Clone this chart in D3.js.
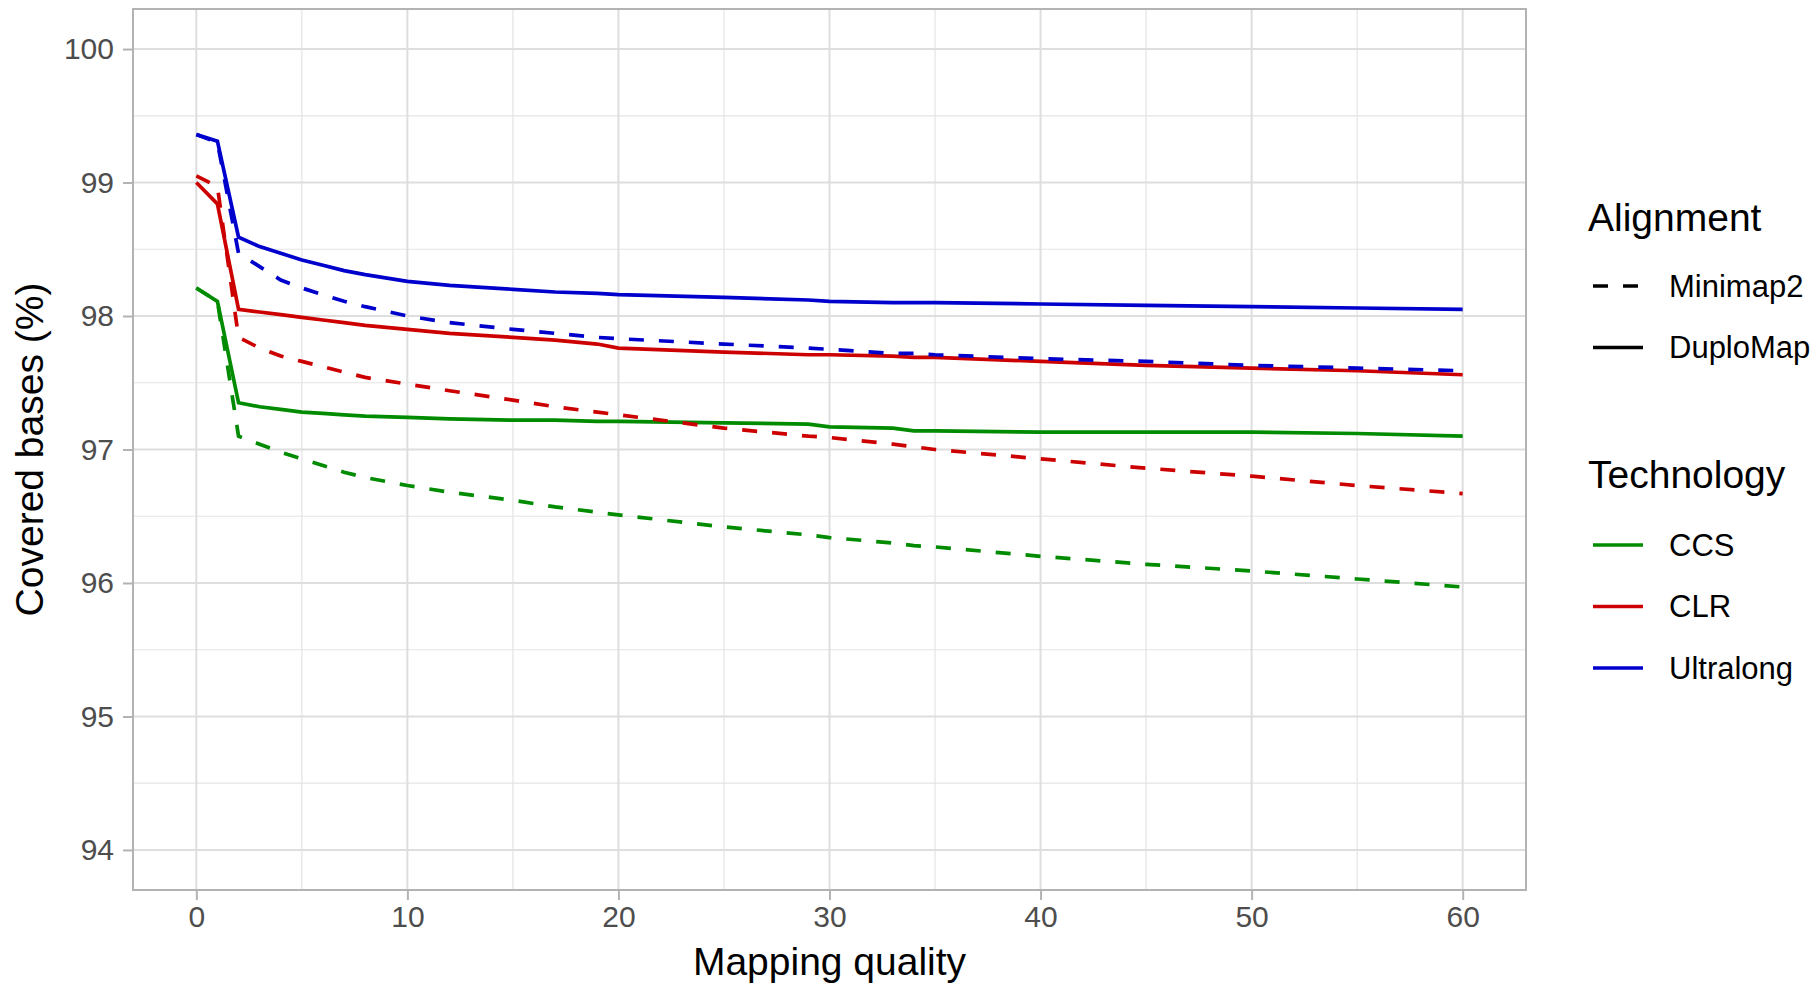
<!DOCTYPE html>
<meta charset="utf-8">
<script src="https://cdn.jsdelivr.net/npm/d3@7"></script>
<style>
  body { margin: 0; background: #fff; }
  svg { display: block; font-family: "Liberation Sans", Arial, sans-serif; }
</style>
<body>
<script>

var mapq = [0, 1, 2, 3, 4, 5, 6, 7, 8, 10, 12, 15, 17, 19, 20, 25, 29, 30, 33, 34, 35, 40, 45, 50, 55, 60]

var ccsMinimap2 = [98.21, 98.11, 97.10, 97.04, 96.98, 96.93, 96.88, 96.83, 96.79, 96.73, 96.68, 96.62, 96.57, 96.53, 96.51, 96.42, 96.36, 96.34, 96.30, 96.28, 96.27, 96.20, 96.14, 96.09, 96.03, 95.97]
var ccsDuploMap = [98.21, 98.11, 97.35, 97.32, 97.30, 97.28, 97.27, 97.26, 97.25, 97.24, 97.23, 97.22, 97.22, 97.21, 97.21, 97.20, 97.19, 97.17, 97.16, 97.14, 97.14, 97.13, 97.13, 97.13, 97.12, 97.10]
var clrMinimap2 = [99.05, 98.97, 97.84, 97.76, 97.70, 97.66, 97.62, 97.58, 97.54, 97.49, 97.44, 97.37, 97.32, 97.28, 97.26, 97.16, 97.10, 97.09, 97.04, 97.02, 97.00, 96.93, 96.86, 96.80, 96.73, 96.67]
var clrDuploMap = [99.00, 98.84, 98.05, 98.03, 98.01, 97.99, 97.97, 97.95, 97.93, 97.90, 97.87, 97.84, 97.82, 97.79, 97.76, 97.73, 97.71, 97.71, 97.70, 97.69, 97.69, 97.66, 97.63, 97.61, 97.59, 97.56]
var ulMinimap2 = [99.36, 99.30, 98.47, 98.37, 98.27, 98.21, 98.16, 98.11, 98.07, 98.00, 97.95, 97.90, 97.87, 97.84, 97.83, 97.79, 97.76, 97.75, 97.72, 97.72, 97.71, 97.68, 97.66, 97.63, 97.61, 97.59]
var ulDuploMap = [99.36, 99.31, 98.59, 98.52, 98.47, 98.42, 98.38, 98.34, 98.31, 98.26, 98.23, 98.20, 98.18, 98.17, 98.16, 98.14, 98.12, 98.11, 98.10, 98.10, 98.10, 98.09, 98.08, 98.07, 98.06, 98.05]

var technologies = ["CCS", "CLR", "Ultralong"]
var alignments = ["Minimap2", "DuploMap"]
var xTicks = [0, 10, 20, 30, 40, 50, 60]
var yTicks = [94, 95, 96, 97, 98, 99, 100]

var series = [
  { tech: "CCS", align: "Minimap2", values: ccsMinimap2 },
  { tech: "CCS", align: "DuploMap", values: ccsDuploMap },
  { tech: "CLR", align: "Minimap2", values: clrMinimap2 },
  { tech: "CLR", align: "DuploMap", values: clrDuploMap },
  { tech: "Ultralong", align: "Minimap2", values: ulMinimap2 },
  { tech: "Ultralong", align: "DuploMap", values: ulDuploMap },
]

var width = 1816
var height = 988
var panel = { left: 133, right: 1526, top: 9, bottom: 890 }

var x = d3.scaleLinear().domain([-3, 63]).range([panel.left, panel.right])
var y = d3.scaleLinear().domain([93.7, 100.3]).range([panel.bottom, panel.top])

var colour = d3.scaleOrdinal().domain(technologies).range(["#008b00", "#cd0000", "#0000cd"])
var dash = d3.scaleOrdinal().domain(alignments).range(["15,15", null])

var svg = d3.select("body").append("svg")
  .attr("width", width)
  .attr("height", height)

// grid
var grid = svg.append("g")
var minorX = d3.range(-5, 66, 10).filter(d => d > -3 && d < 63)
var minorY = d3.range(93.5, 100.6, 1).filter(d => d > 93.7 && d < 100.3)

grid.selectAll(".minx").data(minorX).enter().append("line")
  .attr("x1", d => x(d)).attr("x2", d => x(d))
  .attr("y1", panel.top).attr("y2", panel.bottom)
  .attr("stroke", "#e4e4e4").attr("stroke-width", 1.2)
grid.selectAll(".miny").data(minorY).enter().append("line")
  .attr("y1", d => y(d)).attr("y2", d => y(d))
  .attr("x1", panel.left).attr("x2", panel.right)
  .attr("stroke", "#e4e4e4").attr("stroke-width", 1.2)
grid.selectAll(".majx").data(xTicks).enter().append("line")
  .attr("x1", d => x(d)).attr("x2", d => x(d))
  .attr("y1", panel.top).attr("y2", panel.bottom)
  .attr("stroke", "#dedede").attr("stroke-width", 2)
grid.selectAll(".majy").data(yTicks).enter().append("line")
  .attr("y1", d => y(d)).attr("y2", d => y(d))
  .attr("x1", panel.left).attr("x2", panel.right)
  .attr("stroke", "#dedede").attr("stroke-width", 2)

// lines
var line = d3.line()
  .x((d, i) => x(mapq[i]))
  .y(d => y(d))

svg.append("g").selectAll("path").data(series).enter().append("path")
  .attr("d", d => line(d.values))
  .attr("fill", "none")
  .attr("stroke", d => colour(d.tech))
  .attr("stroke-width", 3.7)
  .attr("stroke-dasharray", d => dash(d.align))

// border
svg.append("rect")
  .attr("x", panel.left).attr("y", panel.top)
  .attr("width", panel.right - panel.left).attr("height", panel.bottom - panel.top)
  .attr("fill", "none").attr("stroke", "#b3b3b3").attr("stroke-width", 2)

// axes
svg.append("g")
  .attr("transform", "translate(0," + panel.bottom + ")")
  .call(d3.axisBottom(x).tickValues(xTicks).tickSize(10).tickPadding(6).tickFormat(d3.format("d")))
svg.append("g")
  .attr("transform", "translate(" + panel.left + ",0)")
  .call(d3.axisLeft(y).tickValues(yTicks).tickSize(10).tickPadding(9).tickFormat(d3.format("d")))

svg.selectAll(".domain").remove()
svg.selectAll(".tick line").attr("stroke", "#b3b3b3").attr("stroke-width", 2)
svg.selectAll(".tick text")
  .attr("fill", "#4d4d4d")
  .style("font-size", "30px")
  .style("font-family", "Liberation Sans, Arial, sans-serif")

svg.append("text")
  .attr("x", (panel.left + panel.right) / 2).attr("y", 975)
  .attr("text-anchor", "middle")
  .style("font-size", "39px")
  .text("Mapping quality")

svg.append("text")
  .attr("transform", "translate(43," + ((panel.top + panel.bottom) / 2) + ") rotate(-90)")
  .attr("text-anchor", "middle")
  .style("font-size", "39px")
  .text("Covered bases (%)")

// legends
var legend = svg.append("g")

legend.append("text").attr("x", 1588).attr("y", 231)
  .style("font-size", "39px").text("Alignment")
var la = legend.selectAll(".la").data(alignments).enter().append("g")
  .attr("transform", (d, i) => "translate(0," + (286 + i * 61.5) + ")")
la.append("line").attr("x1", 1593).attr("x2", 1643)
  .attr("stroke", "#000").attr("stroke-width", 3.7)
  .attr("stroke-dasharray", d => dash(d))
la.append("text").attr("x", 1669).attr("dy", "0.35em")
  .style("font-size", "31px").text(d => d)

legend.append("text").attr("x", 1588).attr("y", 488)
  .style("font-size", "39px").text("Technology")
var lt = legend.selectAll(".lt").data(technologies).enter().append("g")
  .attr("transform", (d, i) => "translate(0," + (545 + i * 61.5) + ")")
lt.append("line").attr("x1", 1593).attr("x2", 1643)
  .attr("stroke", d => colour(d)).attr("stroke-width", 3.7)
lt.append("text").attr("x", 1669).attr("dy", "0.35em")
  .style("font-size", "31px").text(d => d)

</script>
</body>
